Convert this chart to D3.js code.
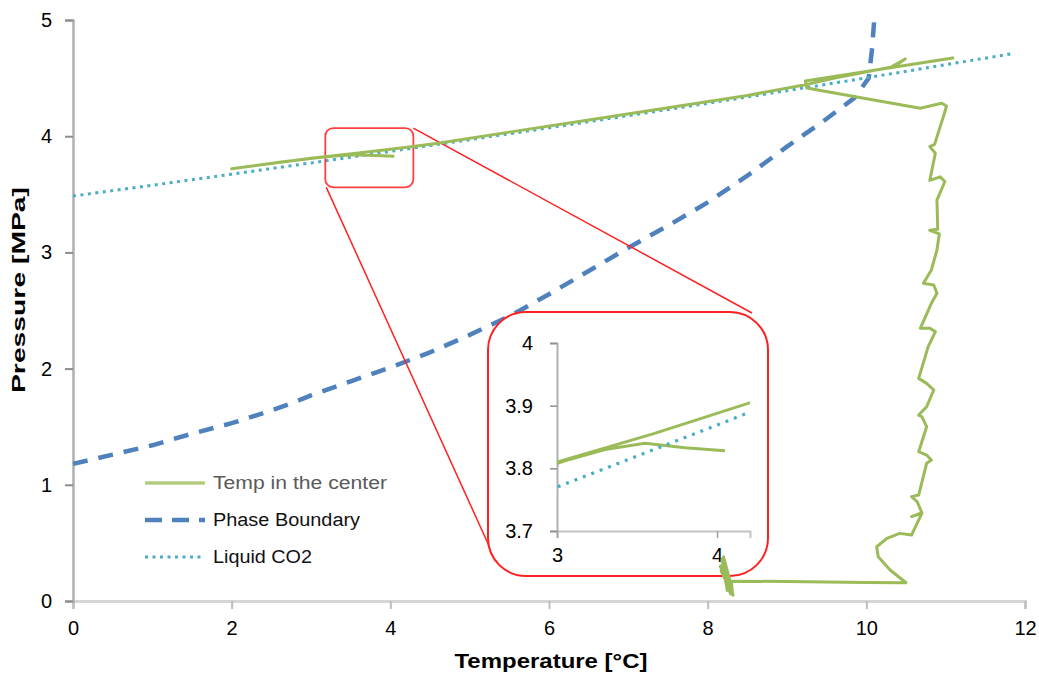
<!DOCTYPE html>
<html>
<head>
<meta charset="utf-8">
<script src="https://cdn.jsdelivr.net/npm/d3@7"></script>
<style>
html,body{margin:0;padding:0;background:#fff;}
svg{display:block;font-family:"Liberation Sans",Arial,sans-serif;}
</style>
</head>
<body>
<svg id="chart" width="1039" height="677"></svg>
<script>
// ---------- data ----------
const xTicks = [0, 2, 4, 6, 8, 10, 12];
const yTicks = [0, 1, 2, 3, 4, 5];
const insetXTicks = [3, 4];
const insetYTicks = [3.7, 3.8, 3.9, 4];
const insetYLabels = ["3.7", "3.8", "3.9", "4"];

const xTitle = "Temperature [°C]";
const yTitle = "Pressure [MPa]";
const seriesNames = ["Temp in the center", "Phase Boundary", "Liquid CO2"];

// Liquid CO2 (vapour-pressure line)
const liquidT = [0, 1, 2, 3, 4, 5, 6, 7, 8, 9, 10, 11, 11.85];
const liquidP = [3.485, 3.578, 3.673, 3.77, 3.869, 3.97, 4.072, 4.177, 4.283, 4.392, 4.502, 4.615, 4.712];

// Phase boundary
const phaseT = [0, 0.5, 1, 1.5, 2, 2.5, 2.75, 3, 3.5, 4, 4.5, 5, 5.5, 6, 6.5, 7, 7.5, 8, 8.5, 9, 9.5, 9.85, 10.03, 10.07, 10.1];
const phaseP = [1.18, 1.26, 1.34, 1.44, 1.53, 1.64, 1.70, 1.77, 1.89, 2.01, 2.14, 2.29, 2.45, 2.64, 2.84, 3.04, 3.23, 3.43, 3.66, 3.91, 4.15, 4.33, 4.50, 4.74, 5.0];

// Temperature in the centre (measured trace)
const tempT = [8.25, 8.18, 8.29, 8.16, 8.31, 8.20, 8.30, 8.17, 8.32, 8.22, 8.28, 8.19, 8.31, 8.30,
  9.0, 10.0, 10.50,
  10.30, 10.15, 10.13, 10.26, 10.42, 10.57,
  10.64, 10.70, 10.57, 10.70, 10.64, 10.57, 10.66, 10.76, 10.82, 10.76, 10.66, 10.76, 10.70, 10.66, 10.76, 10.85, 10.76, 10.66,
  10.78, 10.87, 10.80, 10.68, 10.82, 10.89, 10.85, 10.72, 10.82, 10.89, 10.92, 10.80, 10.90, 10.89, 10.99, 10.93, 10.80,
  10.87, 10.80, 10.86, 10.93, 10.99, 11.01, 10.95, 10.68,
  9.88, 9.25, 9.23, 11.09, 10.30, 10.49, 10.35, 9.6, 9.28,
  8.5, 7.5, 6.5, 5.5, 4.6, 4.21, 3.6, 3.0, 2.5, 2.0,
  2.6, 3.05, 3.3, 3.55, 3.8, 4.05];
const tempP = [0.08, 0.36, 0.06, 0.30, 0.10, 0.38, 0.07, 0.26, 0.05, 0.33, 0.09, 0.35, 0.06, 0.17,
  0.168, 0.16, 0.157,
  0.267, 0.381, 0.467, 0.539, 0.582, 0.568,
  0.668, 0.755, 0.726, 0.76, 0.855, 0.898, 0.912, 1.185, 1.213, 1.256, 1.285, 1.50, 1.586, 1.60, 1.672, 1.816, 1.873, 1.916,
  2.189, 2.318, 2.347, 2.347, 2.562, 2.648, 2.72, 2.734, 2.849, 3.02, 3.16, 3.19, 3.20, 3.45, 3.61, 3.65, 3.62,
  3.853, 3.91, 3.93, 4.08, 4.21, 4.26, 4.283, 4.24,
  4.337, 4.415, 4.475, 4.673, 4.59, 4.665, 4.60, 4.50, 4.45,
  4.35, 4.245, 4.14, 4.035, 3.94, 3.905, 3.855, 3.81, 3.765, 3.72,
  3.775, 3.812, 3.83, 3.84, 3.833, 3.828];

// zoom window (data coordinates of the small box in the main chart)
const zoomBoxT = [3.18, 4.29];
const zoomBoxP = [3.56, 4.07];
const insetDomainT = [3, 4.206];
const insetDomainP = [3.7, 4.0];

// ---------- styles ----------
const GREEN = "#9bbb59", BLUE = "#4f81bd", TEAL = "#4bacc6", RED = "#ff2020";

const svg = d3.select("#chart");
const x = d3.scaleLinear().domain([0, 12]).range([73, 1025]);
const y = d3.scaleLinear().domain([0, 5]).range([601, 20]);

const zip = (a, b) => a.map((v, i) => [v, b[i]]);
const liquid = zip(liquidT, liquidP);
const phase = zip(phaseT, phaseP);
const temp = zip(tempT, tempP);

// ---------- main axes ----------
const gx = svg.append("g").attr("transform", `translate(0,${y(0)})`)
  .call(d3.axisBottom(x).tickValues(xTicks).tickSize(8).tickPadding(12).tickFormat(d3.format("d")));
gx.select(".domain").attr("stroke", "#d6d6d6").attr("stroke-width", 3);
gx.selectAll(".tick line").attr("stroke", "#bdbdbd").attr("stroke-width", 2);
gx.selectAll(".tick text").attr("font-size", 20).attr("fill", "#000").attr("font-family", "Liberation Sans, Arial, sans-serif");

const gy = svg.append("g").attr("transform", `translate(${x(0)},0)`)
  .call(d3.axisLeft(y).tickValues(yTicks).tickSize(8).tickPadding(13).tickFormat(d3.format("d")));
gy.select(".domain").attr("stroke", "#b0b0b0").attr("stroke-width", 2.5);
gy.selectAll(".tick line").attr("stroke", "#8c8c8c").attr("stroke-width", 2);
gy.selectAll(".tick text").attr("font-size", 20).attr("fill", "#000").attr("font-family", "Liberation Sans, Arial, sans-serif");

// axis titles
svg.append("text").text(xTitle)
  .attr("x", 551).attr("y", 668).attr("text-anchor", "middle")
  .attr("font-weight", "bold").attr("font-size", 21)
  .attr("textLength", 193).attr("lengthAdjust", "spacingAndGlyphs");
svg.append("text").text(yTitle)
  .attr("transform", "translate(25,290) rotate(-90)").attr("text-anchor", "middle")
  .attr("font-weight", "bold").attr("font-size", 19)
  .attr("textLength", 206).attr("lengthAdjust", "spacingAndGlyphs");

// ---------- main series (behind the inset) ----------
const line = d3.line().x(d => x(d[0])).y(d => y(d[1]));

svg.append("path").attr("d", line(phase)).attr("fill", "none")
  .attr("stroke", BLUE).attr("stroke-width", 4.5).attr("stroke-dasharray", "15,11");
svg.append("path").attr("d", line(liquid)).attr("fill", "none")
  .attr("stroke", TEAL).attr("stroke-width", 3).attr("stroke-dasharray", "3,4.5");

// ---------- legend ----------
const legend = svg.append("g");
const legY = [483, 520, 557];
legend.append("line").attr("x1", 145).attr("x2", 205).attr("y1", legY[0]).attr("y2", legY[0])
  .attr("stroke", "#c9dba3").attr("stroke-width", 4);
legend.append("line").attr("x1", 145).attr("x2", 205).attr("y1", legY[0]).attr("y2", legY[0])
  .attr("stroke", GREEN).attr("stroke-width", 1.2);
legend.append("line").attr("x1", 145).attr("x2", 205).attr("y1", legY[1]).attr("y2", legY[1])
  .attr("stroke", BLUE).attr("stroke-width", 4.5).attr("stroke-dasharray", "17,10");
legend.append("line").attr("x1", 145).attr("x2", 204).attr("y1", legY[2]).attr("y2", legY[2])
  .attr("stroke", TEAL).attr("stroke-width", 3).attr("stroke-dasharray", "3,4.5");
const legLen = [174, 147, 99];
const legCol = ["#5a5a5a", "#111", "#111"];
seriesNames.forEach((n, i) => {
  legend.append("text").text(n).attr("x", 213).attr("y", legY[i] + 6)
    .attr("font-size", 18).attr("fill", legCol[i])
    .attr("textLength", legLen[i]).attr("lengthAdjust", "spacingAndGlyphs");
});

// ---------- zoom box & connectors ----------
const bx0 = x(zoomBoxT[0]), bx1 = x(zoomBoxT[1]), by0 = y(zoomBoxP[1]), by1 = y(zoomBoxP[0]);
svg.append("rect").attr("x", bx0).attr("y", by0).attr("width", bx1 - bx0).attr("height", by1 - by0)
  .attr("rx", 8).attr("fill", "none").attr("stroke", RED).attr("stroke-width", 1.8).attr("stroke-opacity", 0.85);

const inset = {x: 488, y: 312, w: 280, h: 264, r: 38};
svg.append("line").attr("x1", bx1).attr("y1", by0).attr("x2", 752).attr("y2", inset.y + 1)
  .attr("stroke", RED).attr("stroke-width", 1.5);
svg.append("line").attr("x1", bx0 + 1).attr("y1", by1).attr("x2", inset.x + 2).attr("y2", 548)
  .attr("stroke", RED).attr("stroke-width", 1.5);

// ---------- inset ----------
const ig = svg.append("g");
ig.append("rect").attr("x", inset.x).attr("y", inset.y).attr("width", inset.w).attr("height", inset.h)
  .attr("rx", inset.r).attr("fill", "#fff").attr("stroke", RED).attr("stroke-width", 2);

const ix = d3.scaleLinear().domain(insetDomainT).range([557, 750]);
const iy = d3.scaleLinear().domain(insetDomainP).range([531, 343]);

svg.append("clipPath").attr("id", "insetClip").append("rect")
  .attr("x", 557).attr("y", 343).attr("width", 193).attr("height", 188);

const igx = ig.append("g").attr("transform", `translate(0,${iy(3.7)})`)
  .call(d3.axisBottom(ix).tickValues(insetXTicks).tickSize(7).tickPadding(10).tickFormat(d3.format("d")));
igx.select(".domain").attr("stroke", "#c4c4c4").attr("stroke-width", 2);
igx.selectAll(".tick line").attr("stroke", "#a0a0a0").attr("stroke-width", 1.5);
igx.selectAll(".tick text").attr("font-size", 20).attr("fill", "#000").attr("font-family", "Liberation Sans, Arial, sans-serif");

const igy = ig.append("g").attr("transform", `translate(${ix(3)},0)`)
  .call(d3.axisLeft(iy).tickValues(insetYTicks).tickSize(7).tickPadding(17).tickFormat((d, i) => insetYLabels[i]));
igy.select(".domain").attr("stroke", "#b0b0b0").attr("stroke-width", 2);
igy.selectAll(".tick line").attr("stroke", "#909090").attr("stroke-width", 1.5);
igy.selectAll(".tick text").attr("font-size", 20).attr("fill", "#000").attr("font-family", "Liberation Sans, Arial, sans-serif");

const iline = d3.line().x(d => ix(d[0])).y(d => iy(d[1]));
const ic = ig.append("g").attr("clip-path", "url(#insetClip)");
ic.append("path").attr("d", iline(temp)).attr("fill", "none")
  .attr("stroke", GREEN).attr("stroke-width", 3).attr("stroke-linejoin", "round");
ic.append("path").attr("d", iline(liquid)).attr("fill", "none")
  .attr("stroke", TEAL).attr("stroke-width", 3.2).attr("stroke-dasharray", "3,6");

// ---------- measured trace on top (its bottom spikes overlap the inset frame) ----------
svg.append("path").attr("d", line(temp)).attr("fill", "none")
  .attr("stroke", GREEN).attr("stroke-width", 3).attr("stroke-linejoin", "round");
</script>
</body>
</html>
